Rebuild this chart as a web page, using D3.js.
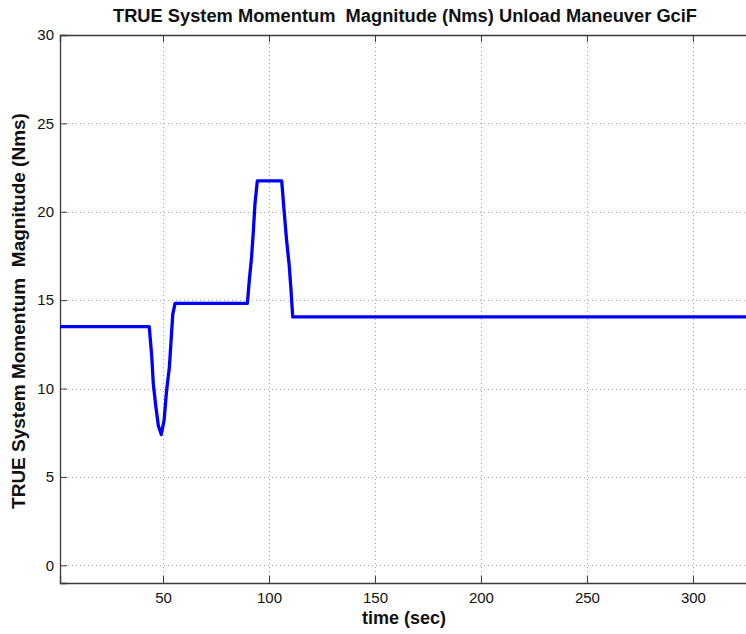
<!DOCTYPE html>
<html>
<head>
<meta charset="utf-8">
<script src="https://cdn.jsdelivr.net/npm/d3@7"></script>
<style>
  html, body { margin: 0; padding: 0; background: #fff; }
  svg { display: block; font-family: "Liberation Sans", Arial, sans-serif; }
</style>
</head>
<body>
<svg id="chart" width="746" height="634"></svg>
<script>
// ---- data ----
const titleText = "TRUE System Momentum  Magnitude (Nms) Unload Maneuver GciF";
const xLabelText = "time (sec)";
const yLabelText = "TRUE System Momentum  Magnitude (Nms)";
const xTicks = [50, 100, 150, 200, 250, 300];
const yTicks = [0, 5, 10, 15, 20, 25, 30];
const xDomain = [1.4, 326];
const yDomain = [-1, 30];
const time = [1.4, 43.5, 44.7, 45.4, 46.6, 47.8, 49.2, 50.5, 51.7, 53.0, 53.8, 54.6, 55.7,
              89.8, 90.7, 91.8, 92.6, 93.4, 94.5, 106.0, 107.1, 108.3, 109.6, 110.4, 111.2, 326];
const momentum = [13.5, 13.5, 11.8, 10.3, 9.0, 7.9, 7.4, 8.2, 9.9, 11.2, 12.7, 14.2, 14.82,
                  14.82, 16.1, 17.45, 18.86, 20.47, 21.75, 21.75, 20.1, 18.4, 16.9, 15.56, 14.05, 14.05];

// ---- layout ----
const svg = d3.select("#chart");
const mLeft = 60, mRight = 748, mTop = 35, mBottom = 583;
const x = d3.scaleLinear().domain(xDomain).range([mLeft, mRight]);
const y = d3.scaleLinear().domain(yDomain).range([mBottom, mTop]);
const axisColor = "#3a3a3a";

// grid
const grid = svg.append("g").attr("stroke", "#a8a8a8").attr("stroke-width", 1)
  .attr("stroke-dasharray", "1,3");
grid.selectAll(".gx").data(xTicks).enter().append("line")
  .attr("x1", d => Math.round(x(d)) + 0.5).attr("x2", d => Math.round(x(d)) + 0.5)
  .attr("y1", mTop).attr("y2", mBottom);
grid.selectAll(".gy").data(yTicks.filter(d => d !== 30)).enter().append("line")
  .attr("y1", d => Math.round(y(d)) + 0.5).attr("y2", d => Math.round(y(d)) + 0.5)
  .attr("x1", mLeft).attr("x2", mRight);

// axes (MATLAB style: inward ticks)
const tickLen = 7;
const xAxisB = d3.axisBottom(x).tickValues(xTicks).tickSize(-tickLen).tickPadding(9).tickFormat(d3.format("d"));
const xAxisT = d3.axisTop(x).tickValues(xTicks).tickSize(-tickLen).tickFormat("");
const yAxisL = d3.axisLeft(y).tickValues(yTicks).tickSize(-tickLen).tickPadding(6).tickFormat(d3.format("d"));

function styleAxis(g) {
  g.select(".domain").attr("stroke", axisColor).attr("stroke-width", 1.3);
  g.selectAll(".tick line").attr("stroke", axisColor).attr("stroke-width", 1);
  g.selectAll(".tick text").attr("fill", "#111").attr("font-size", "15px");
}
svg.append("g").attr("transform", `translate(0,${mBottom})`).call(xAxisB).call(styleAxis)
  .call(g => g.selectAll(".tick text").attr("dy", "0.71em"));
svg.append("g").attr("transform", `translate(0,${mTop})`).call(xAxisT).call(styleAxis);
svg.append("g").attr("transform", `translate(${mLeft},0)`).call(yAxisL).call(styleAxis);

// data line
const line = d3.line().x((d, i) => x(time[i])).y(d => y(d));
svg.append("path").datum(momentum)
  .attr("d", line)
  .attr("fill", "none")
  .attr("stroke", "#0000ff")
  .attr("stroke-width", 3.3)
  .attr("stroke-linejoin", "round");

// title and labels
svg.append("text").attr("x", 405).attr("y", 21.5).attr("text-anchor", "middle")
  .attr("font-size", "18.3px").attr("font-weight", "bold").attr("fill", "#111")
  .style("white-space", "pre").text(titleText);
svg.append("text").attr("x", 404).attr("y", 624).attr("text-anchor", "middle")
  .attr("font-size", "18px").attr("font-weight", "bold").attr("fill", "#111")
  .text(xLabelText);
svg.append("text").attr("transform", "translate(25,311) rotate(-90)").attr("text-anchor", "middle")
  .attr("font-size", "19px").attr("font-weight", "bold").attr("fill", "#111")
  .style("white-space", "pre").text(yLabelText);
</script>
</body>
</html>
